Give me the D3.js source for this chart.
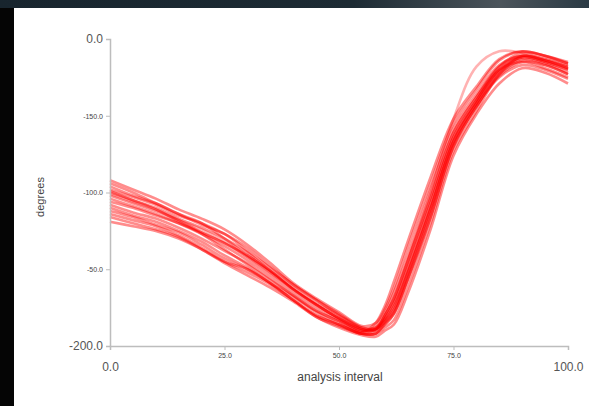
<!DOCTYPE html>
<html>
<head>
<meta charset="utf-8">
<script src="https://cdn.jsdelivr.net/npm/d3@7"></script>
<style>
  html, body { margin: 0; padding: 0; background: #fff; }
  svg { display: block; font-family: "Liberation Sans", Arial, sans-serif; }
</style>
</head>
<body>
<div id="graph"></div>
<script>

// analysis interval sample points (% of interval)
var xPoints = [0, 5, 10, 15, 20, 25, 30, 35, 40, 45, 50, 55, 58, 60, 62, 65, 70, 75, 80, 85, 90, 95, 100];

// one array per trial, degrees
var trial01 = [-96,-102,-107,-114,-121,-127,-138,-149,-160,-170,-180,-188,-188,-182,-172,-149,-107,-64,-40,-18,-9,-11,-16];
var trial02 = [-110,-115,-119,-125,-132,-141,-149,-159,-168,-178,-186,-192,-192,-186,-179,-157,-116,-70,-44,-24,-15,-17,-23];
var trial03 = [-102,-107,-112,-118,-126,-133,-142,-152,-163,-173,-182,-190,-187,-178,-165,-141,-98,-58,-36,-17,-11,-14,-18];
var trial04 = [-116,-120,-124,-129,-137,-146,-154,-162,-171,-181,-188,-193,-194,-190,-186,-166,-124,-76,-49,-29,-19,-22,-29];
var trial05 = [-92,-98,-104,-111,-117,-124,-134,-146,-159,-169,-178,-187,-185,-176,-162,-136,-94,-55,-33,-14,-8,-11,-15];
var trial06 = [-106,-110,-115,-120,-126,-133,-141,-151,-163,-173,-182,-189,-189,-184,-176,-153,-111,-67,-42,-21,-12,-15,-20];
var trial07 = [-99,-105,-111,-119,-127,-137,-147,-157,-167,-177,-184,-191,-189,-180,-169,-145,-103,-61,-38,-20,-15,-19,-25];
var trial08 = [-112,-116,-121,-126,-134,-143,-150,-159,-170,-180,-186,-192,-192,-188,-183,-162,-120,-73,-47,-23,-11,-13,-17];
var trial09 = [-104,-109,-114,-120,-127,-135,-144,-154,-165,-175,-183,-190,-189,-182,-172,-149,-107,-64,-40,-20,-12,-15,-20];
var trial10 = [-100,-105,-110,-117,-123,-130,-139,-151,-162,-172,-180,-189,-190,-186,-179,-157,-116,-70,-44,-25,-17,-20,-26];
var trial11 = [-108,-113,-117,-123,-130,-138,-146,-156,-167,-177,-184,-191,-185,-174,-158,-132,-90,-52,-31,-13,-8,-11,-16];
var trial12 = [-94,-100,-107,-114,-120,-130,-141,-151,-163,-173,-182,-189,-189,-184,-176,-153,-111,-67,-42,-22,-13,-16,-22];
var trial13 = [-114,-118,-122,-128,-136,-145,-152,-160,-170,-181,-187,-192,-190,-180,-169,-145,-103,-61,-38,-18,-11,-14,-19];
var trial14 = [-101,-106,-111,-118,-124,-132,-142,-152,-163,-173,-182,-190,-188,-180,-168,-144,-100,-52,-18,-8,-9,-13,-18];
var trial15 = [-98,-103,-108,-115,-120,-127,-136,-148,-160,-170,-179,-188,-189,-183,-174,-152,-110,-66,-41,-20,-11,-14,-19];
var trial16 = [-119,-122,-125,-130,-137,-145,-150,-159,-170,-180,-186,-192,-192,-185,-178,-156,-114,-69,-44,-23,-14,-17,-23];

var trials = [trial01, trial02, trial03, trial04, trial05, trial06, trial07, trial08,
              trial09, trial10, trial11, trial12, trial13, trial14, trial15, trial16];

// ticks as printed on the original (the y labels are in that odd order there too)
var xTickValues = [0, 25, 50, 75, 100];
var xTickLabels = ["0.0", "25.0", "50.0", "75.0", "100.0"];
var yTickValues = [0, -50, -100, -150, -200];
var yTickLabels = ["0.0", "-150.0", "-100.0", "-50.0", "-200.0"];

var width = 589, height = 406;

var svg = d3.select("#graph").append("svg")
    .attr("width", width)
    .attr("height", height);

var defs = svg.append("defs");

// dark frame round the slide
var grad = defs.append("linearGradient")
    .attr("id", "topband").attr("x1", "0").attr("x2", "1");
grad.append("stop").attr("offset", "0").attr("stop-color", "#18252e");
grad.append("stop").attr("offset", "0.6").attr("stop-color", "#1d2b34");
grad.append("stop").attr("offset", "0.85").attr("stop-color", "#4b545b");
grad.append("stop").attr("offset", "1").attr("stop-color", "#2a3a44");

// the original is a soft photo of a slide
defs.append("filter").attr("id", "soft")
  .append("feGaussianBlur").attr("stdDeviation", 0.6);

svg.append("rect").attr("width", width).attr("height", height).attr("fill", "#fff");
svg.append("rect").attr("width", width).attr("height", 8).attr("fill", "url(#topband)");
svg.append("rect").attr("y", 8).attr("width", 14).attr("height", height).attr("fill", "#050505");

var x = d3.scaleLinear().domain([0, 100]).range([110, 568]);
var y = d3.scaleLinear().domain([-200, 0]).range([346, 39]);

// curves
var line = d3.line()
    .x(function(d, i) { return x(xPoints[i]); })
    .y(function(d) { return y(d); })
    .curve(d3.curveCatmullRom.alpha(0.5));

svg.append("g").attr("class", "trials")
    .attr("filter", "url(#soft)")
  .selectAll("path")
  .data(trials)
  .enter().append("path")
    .attr("d", line)
    .attr("fill", "none")
    .attr("stroke", "#ff0000")
    .attr("stroke-width", 2.6)
    .attr("stroke-opacity", function(d) { return d === trial14 ? 0.3 : 0.45; });

// axes
var yAxis = svg.append("g")
    .attr("transform", "translate(110,0)")
    .call(d3.axisLeft(y).tickValues(yTickValues).tickSize(4).tickPadding(3)
      .tickFormat(function(d, i) { return yTickLabels[i]; }));

var xAxis = svg.append("g")
    .attr("transform", "translate(0,346)")
    .call(d3.axisBottom(x).tickValues(xTickValues).tickSize(4).tickPadding(2)
      .tickFormat(function(d, i) { return xTickLabels[i]; }));

[yAxis, xAxis].forEach(function(ax) {
  ax.select(".domain").attr("stroke", "#bdbdbd").attr("stroke-width", 1.5);
  ax.selectAll(".tick line").attr("stroke", "#bdbdbd");
  ax.selectAll(".tick text").attr("fill", "#555").style("font-family", "Liberation Sans, Arial, sans-serif");
});

// end labels are large, middle labels tiny
yAxis.selectAll(".tick text")
    .style("font-size", function(d, i) { return (i == 0 || i == yTickValues.length - 1) ? "12px" : "7px"; })
    .attr("fill", function(d, i) { return (i == 0 || i == yTickValues.length - 1) ? "#555" : "#444"; });

xAxis.selectAll(".tick text")
    .style("font-size", function(d, i) { return (i == 0 || i == xTickValues.length - 1) ? "12px" : "7px"; })
    .attr("fill", function(d, i) { return (i == 0 || i == xTickValues.length - 1) ? "#555" : "#444"; })
    .attr("dy", function(d, i) { return (i == 0 || i == xTickValues.length - 1) ? "1.55em" : "0.9em"; });

// axis titles
svg.append("text")
    .attr("x", 340).attr("y", 381)
    .attr("text-anchor", "middle")
    .attr("fill", "#444")
    .style("font-size", "12px")
    .text("analysis interval");

svg.append("text")
    .attr("transform", "translate(44,197) rotate(-90)")
    .attr("text-anchor", "middle")
    .attr("fill", "#444")
    .style("font-size", "11px")
    .text("degrees");

</script>
</body>
</html>
